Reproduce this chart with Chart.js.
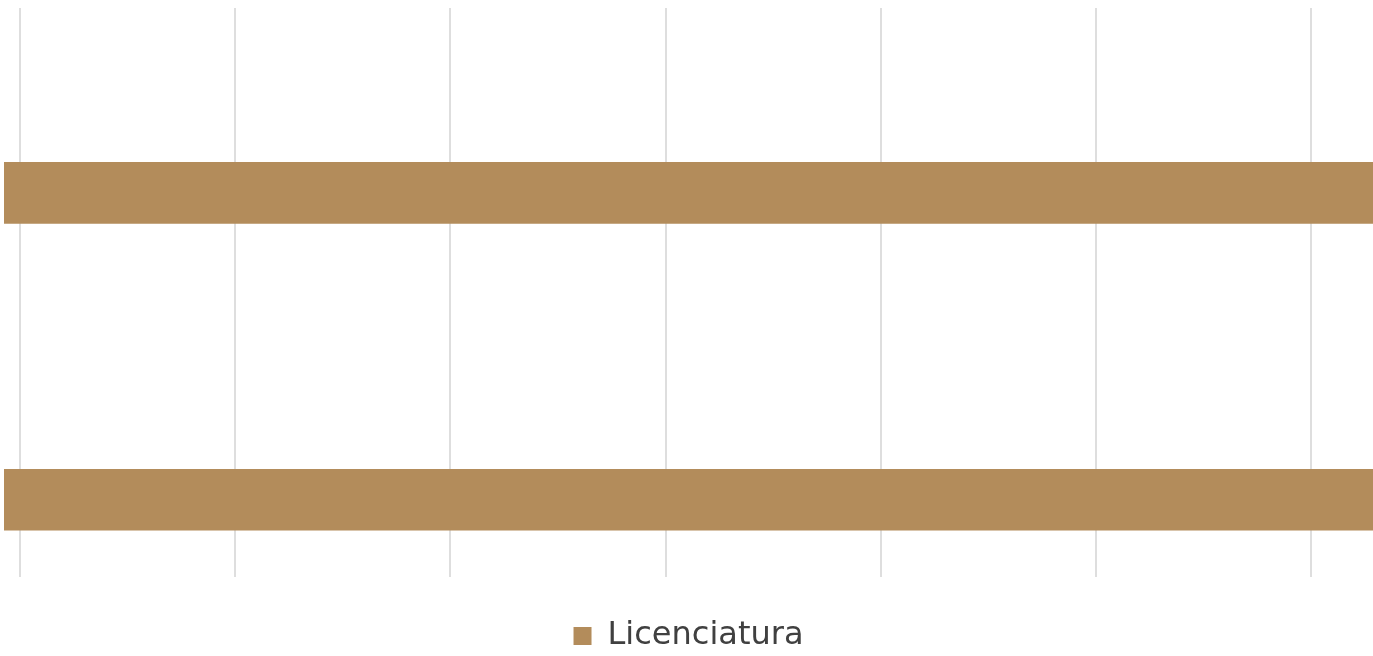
<!DOCTYPE html>
<html>
<head>
<meta charset="utf-8">
<script src="https://cdn.jsdelivr.net/npm/chart.js@4/dist/chart.umd.min.js"></script>
<style>
  html, body { margin: 0; padding: 0; background: #ffffff; }
  #wrap { width: 1373px; height: 656px; position: relative; }
</style>
</head>
<body>
<div id="wrap"><canvas id="c"></canvas></div>
<script>
// Categories (no category labels are shown in the reference)
const categories = ["Categoría 1", "Categoría 2"];
// Series values (bars run past the right end of the axis)
const seriesName = "Licenciatura";
const seriesValues = [7, 7];
// Value-axis tick positions (tick labels are hidden in the reference)
const xTicks = [0, 1, 2, 3, 4, 5, 6];
const xMin = -0.0744;
const xMax = 6.288;
const yMin = -0.602;
const yMax = 1.2515;

const points = categories.map((c, i) => ({ x: seriesValues[i], y: i }));

new Chart(document.getElementById('c'), {
  type: 'bar',
  data: {
    datasets: [{
      label: seriesName,
      data: points,
      base: xMin,
      backgroundColor: '#b38c5b',
      borderWidth: 0,
      barThickness: 61
    }]
  },
  options: {
    indexAxis: 'y',
    responsive: true,
    maintainAspectRatio: false,
    animation: false,
    layout: { padding: { left: 4, top: 8, right: 0, bottom: -6 } },
    scales: {
      x: {
        type: 'linear',
        min: xMin,
        max: xMax,
        afterBuildTicks: (s) => { s.ticks = xTicks.map(v => ({ value: v })); },
        afterFit: (s) => { s.height = 43; },
        ticks: { display: false },
        grid: { color: '#dedede', lineWidth: 2, drawTicks: false },
        border: { display: false }
      },
      y: {
        type: 'linear',
        reverse: true,
        offset: false,
        grid: { offset: false },
        min: yMin,
        max: yMax,
        display: false
      }
    },
    plugins: {
      tooltip: { enabled: false },
      legend: {
        position: 'bottom',
        labels: {
          boxWidth: 18,
          boxHeight: 18,
          color: '#404040',
          font: { family: 'DejaVu Sans', size: 32 },
          padding: 0
        }
      }
    }
  }
});
</script>
</body>
</html>
